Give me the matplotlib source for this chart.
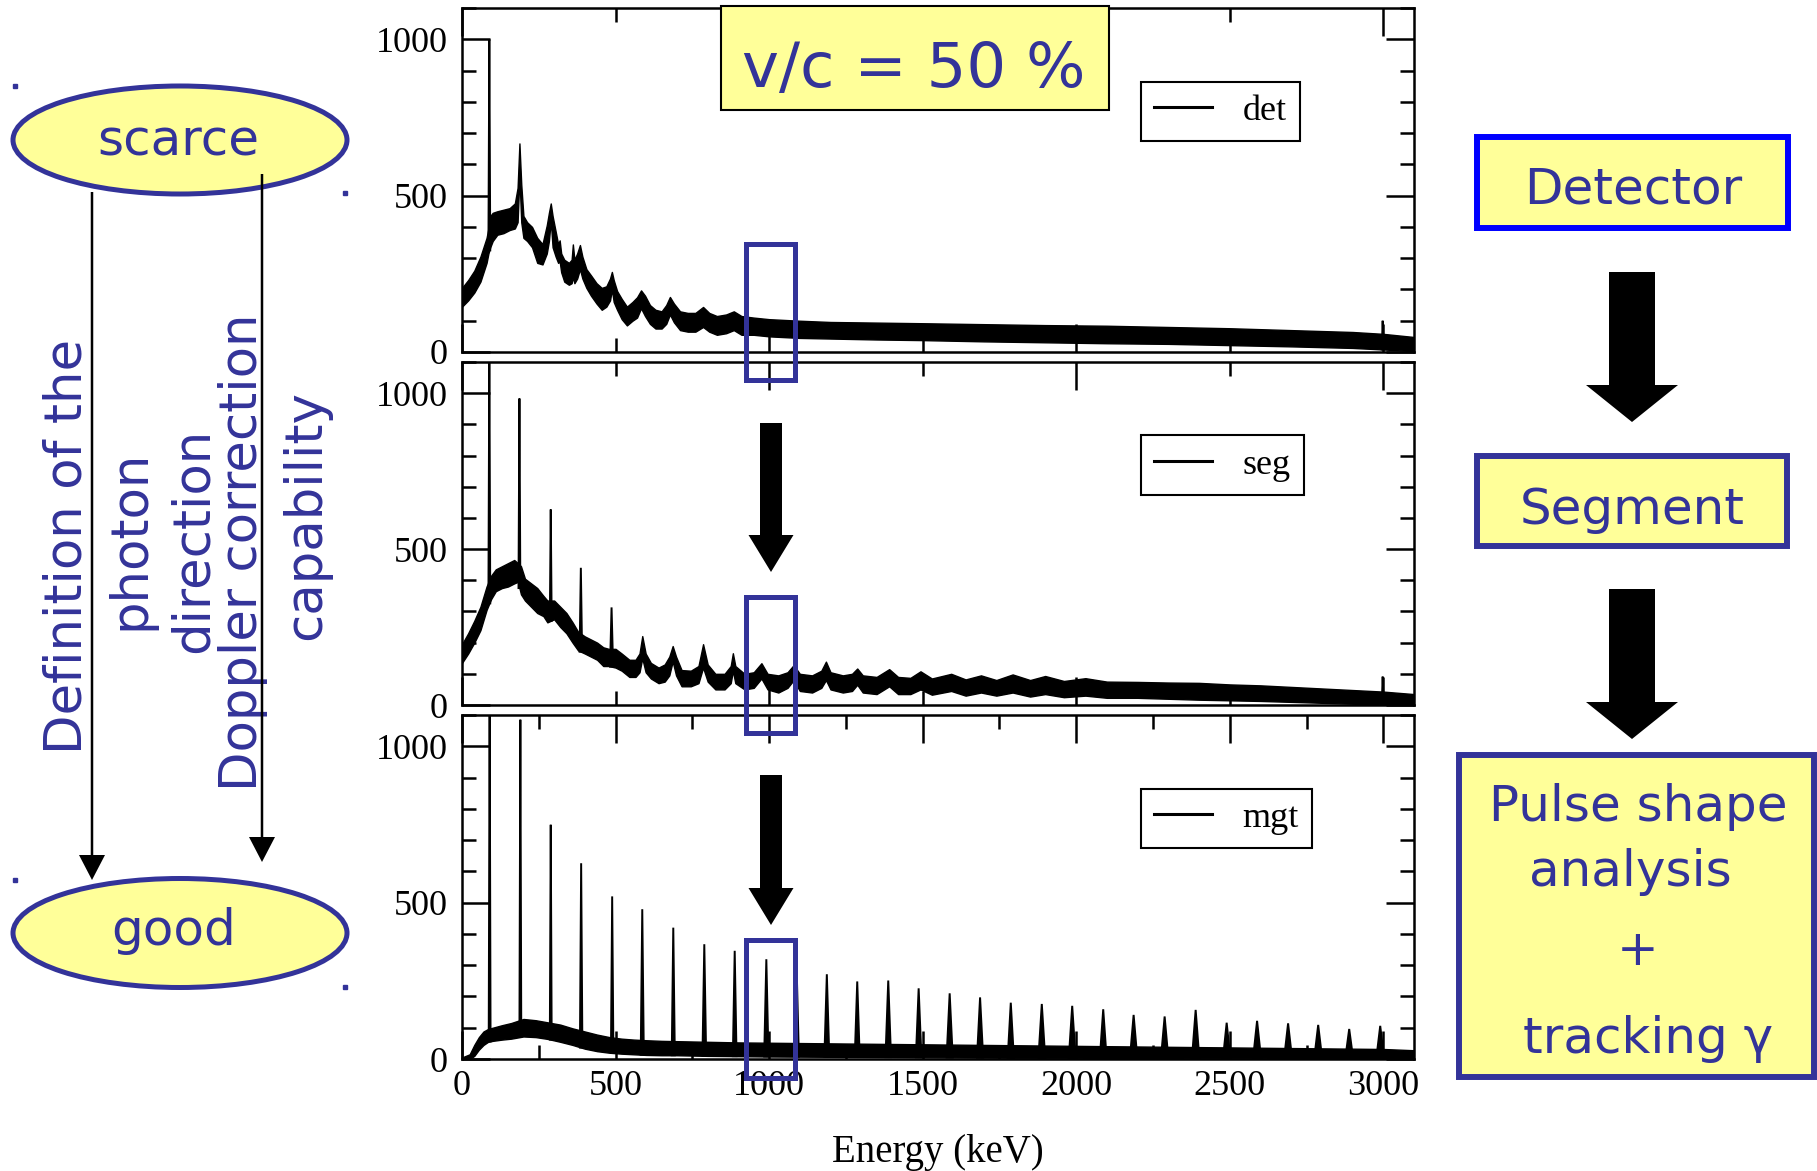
import numpy as np
import matplotlib
matplotlib.use('Agg')
import matplotlib.pyplot as plt
from matplotlib.patches import Rectangle, Ellipse, FancyArrow
from matplotlib.lines import Line2D
from matplotlib.ticker import MultipleLocator

W, H = 1817, 1171
NAVY = '#333399'
YELLOW = '#ffff99'
SERIF = 'Liberation Serif'
plt.rcParams['font.family'] = ['DejaVu Sans']

# spectra: energy (keV), noise band lower/upper edge (counts)
det_e = [0, 20, 40, 60, 80, 86, 92, 100, 115, 135, 155, 172, 181, 187, 193, 200, 212, 228,
         245, 262, 276, 283, 289, 295, 305, 313, 318, 323, 333, 348, 357, 361, 366, 375,
         384, 392, 405, 420, 438, 455, 470, 482, 488, 494, 505, 520, 537, 555, 570, 583,
         596, 612, 630, 650, 665, 677, 690, 710, 735, 760, 785, 805, 830, 860, 885, 910,
         950, 1000, 1100, 1200, 1350, 1500, 1700, 1900, 2100, 2300, 2500, 2700, 2900, 3000, 3100]
det_lo = [145, 165, 190, 225, 285, 315, 335, 355, 375, 380, 390, 395, 415, 560, 415, 365, 355, 335,
          285, 280, 315, 355, 420, 335, 305, 285, 290, 255, 225, 215, 220, 240, 220, 235,
          265, 235, 205, 180, 155, 135, 145, 165, 200, 160, 135, 105, 85, 100, 110, 140,
          115, 90, 75, 75, 90, 120, 95, 70, 65, 65, 80, 65, 55, 60, 70, 55,
          55, 50, 45, 43, 40, 38, 34, 31, 28, 26, 22, 18, 13, 8, 3]
det_hi = [205, 230, 260, 305, 365, 395, 435, 445, 450, 455, 460, 475, 525, 667, 535, 435, 415, 400,
          365, 345, 405, 445, 475, 435, 385, 345, 357, 315, 295, 285, 295, 344, 295, 315,
          342, 305, 265, 245, 220, 205, 210, 235, 256, 230, 195, 170, 145, 160, 175, 197,
          180, 150, 135, 130, 150, 176, 155, 130, 125, 125, 144, 125, 115, 120, 130, 115,
          110, 105, 100, 96, 94, 92, 89, 86, 84, 80, 76, 70, 64, 58, 48]
det_pk_e = [89, 2998]
det_pk_top = [1000, 100]
det_pk_hw = [3, 3]

seg_e = [0, 20, 40, 60, 80, 95, 110, 130, 150, 170, 182, 192, 205, 225, 245, 265, 278, 300,
         320, 340, 360, 378, 400, 420, 440, 460, 478, 500, 520, 545, 565, 578, 587, 598,
         615, 640, 660, 675, 686, 697, 715, 745, 770, 785, 800, 825, 855, 875, 882, 890,
         920, 950, 975, 995, 1030, 1060, 1080, 1100, 1140, 1170, 1185, 1200, 1240, 1270,
         1287, 1305, 1350, 1391, 1420, 1460, 1493, 1530, 1593, 1640, 1690, 1740, 1793,
         1850, 1899, 1960, 2030, 2100, 2200, 2300, 2400, 2500, 2600, 2700, 2800, 2900, 3000, 3100]
seg_lo = [135, 165, 200, 240, 305, 340, 365, 375, 380, 390, 395, 355, 335, 315, 295, 285, 265, 275,
          250, 230, 200, 175, 165, 155, 145, 125, 125, 120, 110, 90, 90, 105, 150, 105,
          85, 70, 75, 95, 140, 95, 60, 60, 70, 120, 75, 50, 50, 70, 110, 70,
          50, 55, 85, 50, 40, 55, 80, 45, 40, 55, 80, 50, 40, 45,
          65, 40, 35, 60, 35, 35, 50, 33, 45, 30, 40, 30, 40,
          27, 35, 25, 30, 23, 23, 20, 17, 15, 13, 10, 7, 4, 2, 0]
seg_hi = [195, 230, 270, 315, 380, 415, 435, 445, 455, 465, 455, 445, 405, 390, 375, 350, 335, 335,
          315, 295, 265, 235, 220, 210, 200, 185, 180, 180, 165, 145, 145, 165, 221, 165,
          135, 120, 130, 155, 189, 155, 112, 110, 125, 195, 130, 100, 100, 125, 166, 125,
          100, 105, 134, 100, 95, 105, 128, 100, 95, 110, 139, 105, 95, 100,
          117, 95, 90, 115, 90, 87, 108, 85, 100, 82, 95, 80, 98,
          80, 93, 77, 86, 75, 74, 72, 71, 66, 63, 58, 53, 48, 43, 35]
seg_pk_e = [89, 187, 289, 387, 487, 2998]
seg_pk_top = [1150, 983, 627, 440, 313, 91]
seg_pk_hw = [3, 3, 3, 4, 5, 3]

mgt_e = [0, 25, 40, 55, 70, 85, 100, 130, 160, 200, 240, 280, 320, 360, 400, 440, 480, 520,
         560, 600, 650, 700, 800, 900, 1000, 1200, 1400, 1600, 1800, 2000, 2200, 2400,
         2600, 2800, 3000, 3100]
mgt_lo = [0, 0, 10, 30, 45, 55, 58, 62, 65, 72, 70, 64, 55, 45, 33, 25, 20, 17,
          15, 13, 12, 12, 10, 9, 8, 7, 6, 5, 4, 4, 3, 2, 2, 1, 0, 0]
mgt_hi = [5, 15, 45, 70, 88, 96, 100, 108, 115, 128, 124, 117, 110, 98, 88, 78, 70, 65,
          62, 60, 58, 57, 55, 53, 52, 50, 48, 46, 44, 42, 40, 38, 36, 34, 32, 28]
mgt_pk_e = [90, 190, 289, 388, 489, 587, 688, 789, 888, 991, 1090, 1188, 1287, 1388, 1487,
            1588, 1687, 1787, 1888, 1987, 2088, 2187, 2288, 2389, 2490, 2589, 2690, 2788, 2889, 2990]
mgt_pk_top = [1150, 1085, 749, 626, 520, 479, 420, 367, 346, 319, 280, 271, 248, 251, 226,
              210, 197, 180, 176, 170, 159, 141, 136, 157, 116, 122, 114, 109, 96, 106]
mgt_pk_hw = [3, 3, 3, 4, 4, 5, 5, 6, 6, 7, 7, 8, 8, 9, 9,
             10, 10, 10, 11, 11, 11, 12, 12, 12, 12, 13, 13, 13, 13, 13]

labels = ['det', 'seg', 'mgt']


def px_rect(x0, y0, x1, y1):
    return [x0 / W, 1 - y1 / H, (x1 - x0) / W, (y1 - y0) / H]


def draw_spec(ax, e, lo, hi, pk_e, pk_top, pk_hw):
    ax.fill_between(e, lo, hi, color='k', lw=1.0)
    for pe, pt, hw in zip(pk_e, pk_top, pk_hw):
        base = np.interp(pe, e, lo)
        ax.fill([pe - hw, pe, pe + hw], [base, pt, base], color='k', lw=1.4)


fig = plt.figure(figsize=(W / 100, H / 100), dpi=100)

ax_det = fig.add_axes(px_rect(462, 8, 1414, 352))
ax_seg = fig.add_axes(px_rect(462, 362, 1414, 705))
ax_mgt = fig.add_axes(px_rect(462, 715, 1414, 1059))

draw_spec(ax_det, det_e, det_lo, det_hi, det_pk_e, det_pk_top, det_pk_hw)
draw_spec(ax_seg, seg_e, seg_lo, seg_hi, seg_pk_e, seg_pk_top, seg_pk_hw)
draw_spec(ax_mgt, mgt_e, mgt_lo, mgt_hi, mgt_pk_e, mgt_pk_top, mgt_pk_hw)

for ax, lab in zip([ax_det, ax_seg, ax_mgt], labels):
    ax.set_xlim(0, 3100)
    ax.set_ylim(0, 1100)
    for s in ax.spines.values():
        s.set_linewidth(1.8)
    ax.yaxis.set_major_locator(MultipleLocator(500))
    ax.yaxis.set_minor_locator(MultipleLocator(100))
    if ax is ax_mgt:
        ax.xaxis.set_major_locator(MultipleLocator(500))
        ax.xaxis.set_minor_locator(MultipleLocator(250))
    else:
        ax.xaxis.set_major_locator(MultipleLocator(1000))
        ax.xaxis.set_minor_locator(MultipleLocator(500))
        ax.set_xticklabels([])
    ax.tick_params(which='both', direction='in', top=True, right=True, width=1.8)
    ax.tick_params(which='major', length=20)
    ax.tick_params(which='minor', length=10)
    ax.tick_params(axis='y', pad=10)
    ax.tick_params(axis='x', pad=8)
    for t in ax.get_xticklabels() + ax.get_yticklabels():
        t.set_fontfamily(SERIF)
        t.set_fontsize(26)
    leg = ax.legend(handles=[Line2D([], [], color='k', lw=2.2)], labels=[lab],
                    loc='upper left', bbox_to_anchor=(0.7132, 0.786), borderaxespad=0,
                    prop={'family': SERIF, 'size': 26}, fancybox=False, framealpha=1,
                    edgecolor='k', handlelength=1.6, handletextpad=0.85, borderpad=0.36)
    leg.get_frame().set_linewidth(1.5)

ax_mgt.set_xlabel('Energy (keV)', fontfamily=SERIF, fontsize=28, labelpad=22)

# overlay in pixel coordinates for the slide decorations
ov = fig.add_axes([0, 0, 1, 1])
ov.set_xlim(0, W)
ov.set_ylim(H, 0)
ov.axis('off')
ov.patch.set_alpha(0)

# v/c box
ov.add_patch(Rectangle((721, 6), 388, 104, fc=YELLOW, ec='k', lw=1.5))
ov.text(914, 87, 'v/c = 50 %', color=NAVY, fontsize=45, ha='center', va='baseline')

# blue frames around 1000 keV
for y0, y1 in [(244, 380), (597, 733), (940, 1078)]:
    ov.add_patch(Rectangle((746, y0), 49, y1 - y0, fc='none', ec=NAVY, lw=3.6))

# black arrows between panels
for y0, y1 in [(423, 572), (775, 925)]:
    ov.add_patch(FancyArrow(771, y0, 0, y1 - y0, width=22, head_width=45, head_length=37,
                            length_includes_head=True, fc='k', ec='none'))

# right column
ov.add_patch(Rectangle((1477, 137), 311, 91, fc=YELLOW, ec='#0000ff', lw=4.3))
ov.text(1633, 204, 'Detector', color=NAVY, fontsize=36, ha='center', va='baseline')
ov.add_patch(Rectangle((1477, 456), 310, 90, fc=YELLOW, ec=NAVY, lw=4.3))
ov.text(1632, 524, 'Segment', color=NAVY, fontsize=36, ha='center', va='baseline')
ov.add_patch(Rectangle((1459, 755), 355, 322, fc=YELLOW, ec=NAVY, lw=4.3))
ov.text(1638, 821, 'Pulse shape', color=NAVY, fontsize=36, ha='center', va='baseline')
ov.text(1630, 886, 'analysis', color=NAVY, fontsize=36, ha='center', va='baseline')
ov.text(1638, 951, '+', color=NAVY, fontsize=36, ha='center', va='center')
ov.text(1648, 1053, 'tracking γ', color=NAVY, fontsize=36, ha='center', va='baseline')
for y0, y1 in [(272, 422), (589, 739)]:
    ov.add_patch(FancyArrow(1632, y0, 0, y1 - y0, width=46, head_width=92, head_length=37,
                            length_includes_head=True, fc='k', ec='none'))

# left column
ov.add_patch(Ellipse((180, 140), 334, 108, fc=YELLOW, ec=NAVY, lw=3.6))
ov.text(178, 156, 'scarce', color=NAVY, fontsize=36, ha='center', va='baseline')
ov.add_patch(Ellipse((180, 933), 334, 109, fc=YELLOW, ec=NAVY, lw=3.6))
ov.text(174, 945, 'good', color=NAVY, fontsize=36, ha='center', va='baseline')
ov.plot([15, 345, 15, 345], [86, 193, 880, 987], 's', color=NAVY, ms=3, ls='none')
for x, y0, y1 in [(92, 192, 880), (262, 174, 862)]:
    ov.add_patch(FancyArrow(x, y0, 0, y1 - y0, width=2.5, head_width=26, head_length=25,
                            length_includes_head=True, fc='k', ec='none', zorder=5))

side_text = ['Definition of the', 'photon', 'direction', 'Doppler correction', 'capability']
side_x = [82, 144, 208, 257, 320]
side_y = [546, 540, 540, 552, 515]
for s, x, y in zip(side_text, side_x, side_y):
    ov.text(x, y, s, color=NAVY, fontsize=37, rotation=90, rotation_mode='anchor',
            ha='center', va='baseline', zorder=4)

fig.savefig('out.png', dpi=100)
